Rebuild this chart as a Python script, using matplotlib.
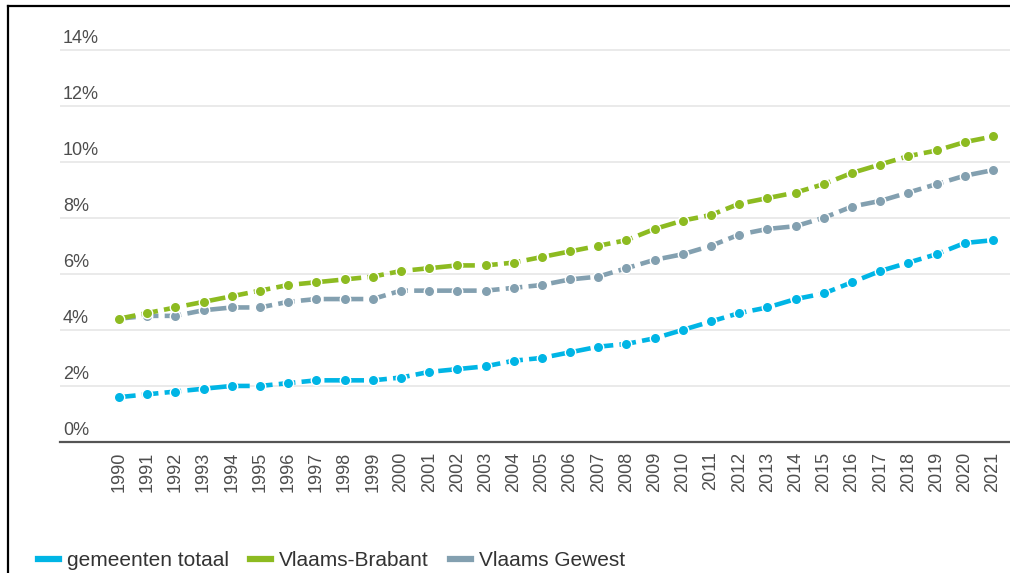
import matplotlib
matplotlib.use("Agg")
import matplotlib.pyplot as plt
from matplotlib.lines import Line2D

plt.rcParams['font.family'] = ['Liberation Sans', 'DejaVu Sans']
plt.rcParams['lines.scale_dashes'] = False

years = list(range(1990, 2022))
gemeenten_totaal = [1.6, 1.7, 1.8, 1.9, 2.0, 2.0, 2.1, 2.2, 2.2, 2.2,
                    2.3, 2.5, 2.6, 2.7, 2.9, 3.0, 3.2, 3.4, 3.5, 3.7,
                    4.0, 4.3, 4.6, 4.8, 5.1, 5.3, 5.7, 6.1, 6.4, 6.7,
                    7.1, 7.2]
vlaams_brabant = [4.4, 4.6, 4.8, 5.0, 5.2, 5.4, 5.6, 5.7, 5.8, 5.9,
                  6.1, 6.2, 6.3, 6.3, 6.4, 6.6, 6.8, 7.0, 7.2, 7.6,
                  7.9, 8.1, 8.5, 8.7, 8.9, 9.2, 9.6, 9.9, 10.2, 10.4,
                  10.7, 10.9]
vlaams_gewest = [4.4, 4.5, 4.5, 4.7, 4.8, 4.8, 5.0, 5.1, 5.1, 5.1,
                 5.4, 5.4, 5.4, 5.4, 5.5, 5.6, 5.8, 5.9, 6.2, 6.5,
                 6.7, 7.0, 7.4, 7.6, 7.7, 8.0, 8.4, 8.6, 8.9, 9.2,
                 9.5, 9.7]
series_names = ["gemeenten totaal", "Vlaams-Brabant", "Vlaams Gewest"]
colors = ["#00b5e5", "#8dbb21", "#83a0b0"]
y_ticks = [0, 2, 4, 6, 8, 10, 12, 14]
y_labels = ["0%", "2%", "4%", "6%", "8%", "10%", "12%", "14%"]

W, H = 1010, 573
fig = plt.figure(figsize=(W / 100, H / 100), dpi=100)
ax = fig.add_axes([60 / W, 1 - 442 / H, 1 - 60 / W, (442 - 30) / H])

px_per_year = (993 - 119) / 31
ax.set_xlim(1990 - (119 - 60) / px_per_year, 2021 + (1010 - 993) / px_per_year)
ax.set_ylim(0, (442 - 30) / 28.03)

for s in ax.spines.values():
    s.set_visible(False)
ax.axhline(0, color="#555555", lw=1.6, zorder=3, clip_on=False)
for t in y_ticks[1:]:
    ax.axhline(t, color="#e6e6e6", lw=1.2, zorder=0)

series = [gemeenten_totaal, vlaams_brabant, vlaams_gewest]
zorders = [4, 5, 4]
for name, vals, c, z in zip(series_names, series, colors, zorders):
    ax.plot(years, vals, color=c, lw=3.3, dashes=(12, 4.5),
            marker="o", markersize=7.5, markerfacecolor=c,
            markeredgecolor="white", markeredgewidth=1.0, zorder=z,
            label=name, solid_capstyle="butt", dash_capstyle="butt")

ax.set_yticks([])
for t, lab in zip(y_ticks, y_labels):
    ax.annotate(lab, xy=(0, t), xycoords=("axes fraction", "data"),
                xytext=(2, 2), textcoords="offset points",
                ha="left", va="bottom", fontsize=13, color="#4d4d4d")

ax.set_xticks(years)
ax.set_xticklabels([str(y) for y in years], rotation=90, fontsize=13,
                   color="#4d4d4d", va="top")
ax.tick_params(axis="x", length=0, pad=7)

handles = [Line2D([0], [0], color=c, lw=4.5) for c in colors]
fig.legend(handles, series_names, loc="center left",
           bbox_to_anchor=(38 / W, 1 - 561 / H), ncol=3, frameon=False,
           fontsize=15, handlelength=1.0, handletextpad=0.4,
           columnspacing=1.0, borderpad=0, borderaxespad=0,
           labelcolor="#333333")

fig.add_artist(Line2D([8 / W, 8 / W], [0, 1 - 6 / H], color="black",
                      lw=1.6, transform=fig.transFigure))
fig.add_artist(Line2D([8 / W, 1], [1 - 6 / H, 1 - 6 / H], color="black",
                      lw=1.6, transform=fig.transFigure))

fig.savefig("out.png", dpi=100)
